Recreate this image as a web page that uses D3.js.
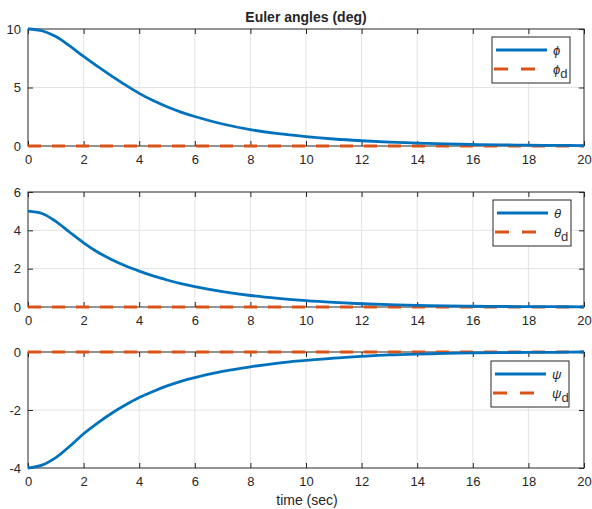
<!DOCTYPE html>
<html lang="en">
<head>
  <meta charset="UTF-8" />
  <title>Euler angles</title>
  <style>
  body { margin: 0; background: #fff; }
  text { font-family: "Liberation Sans", Arial, sans-serif; fill: #262626; }
  .grid line { stroke: #e3e3e3; stroke-width: 1; }
  .box { fill: none; stroke: #262626; stroke-width: 1; }
  </style>
</head>
<body>
  <script src="https://cdn.jsdelivr.net/npm/d3@7/dist/d3.min.js"></script>
  <script>
  // time samples (sec)
  var time = [0, 0.5, 1, 1.5, 2, 2.5, 3, 3.5, 4, 4.5, 5, 5.5, 6, 7, 8, 9, 10, 11, 12, 13, 14, 15, 16, 17, 18, 19, 20];
  var phi   = [10, 9.85, 9.35, 8.55, 7.65, 6.8, 6.0, 5.22, 4.5, 3.88, 3.35, 2.9, 2.52, 1.88, 1.4, 1.05, 0.8, 0.6, 0.45, 0.33, 0.25, 0.18, 0.13, 0.1, 0.07, 0.05, 0.04];
  var theta = [5.0, 4.88, 4.47, 3.9, 3.35, 2.87, 2.48, 2.15, 1.87, 1.62, 1.41, 1.22, 1.06, 0.8, 0.6, 0.45, 0.33, 0.24, 0.17, 0.12, 0.08, 0.06, 0.04, 0.03, 0.02, 0.015, 0.01];
  var psi   = [-4, -3.9, -3.64, -3.25, -2.82, -2.45, -2.12, -1.83, -1.57, -1.36, -1.17, -1.01, -0.88, -0.67, -0.51, -0.38, -0.29, -0.21, -0.15, -0.1, -0.07, -0.05, -0.03, -0.02, -0.015, -0.01, 0];
  var desired = [0, 0];
  var desiredTime = [0, 20];

  var xTicks = [0, 2, 4, 6, 8, 10, 12, 14, 16, 18, 20];
  var yTicks1 = [0, 5, 10];
  var yTicks2 = [0, 2, 4, 6];
  var yTicks3 = [-4, -2, 0];
  var symbols = ["\u03D5", "\u03B8", "\u03C8"];

  var blue = "#0072BD", orange = "#D95319";
  var W = 592, H = 509;
  var left = 28, right = 584;

  var svg = d3.select("body").append("svg")
      .attr("width", W)
      .attr("height", H);

  var panels = [
    {values: phi,   dom: [0, 10], ticks: yTicks1, top: 29,  bottom: 146, leg: {x: 492, y: 37}},
    {values: theta, dom: [0, 6],  ticks: yTicks2, top: 192, bottom: 307, leg: {x: 493, y: 200}},
    {values: psi,   dom: [-4, 0], ticks: yTicks3, top: 352, bottom: 468, leg: {x: 491, y: 361}}
  ];

  var x = d3.scaleLinear().domain([0, 20]).range([left, right]);
  var fmt = function(d) { return String(d); };  // plain hyphen minus like matlab

  panels.forEach(function(p, i) {
    var y = d3.scaleLinear().domain(p.dom).range([p.bottom, p.top]);
    var g = svg.append("g");

    // grid
    var grid = g.append("g").attr("class", "grid");
    grid.selectAll(".gx").data(xTicks.slice(1, -1)).enter().append("line")
      .attr("x1", d => x(d)).attr("x2", d => x(d))
      .attr("y1", p.top).attr("y2", p.bottom);
    grid.selectAll(".gy").data(p.ticks.slice(1, -1)).enter().append("line")
      .attr("y1", d => y(d)).attr("y2", d => y(d))
      .attr("x1", left).attr("x2", right);

    // axes (ticks inside, on all four sides)
    g.append("g").attr("transform", "translate(0," + p.bottom + ")")
      .call(d3.axisBottom(x).tickValues(xTicks).tickFormat(fmt).tickSizeInner(-5).tickSizeOuter(0).tickPadding(9));
    g.append("g").attr("transform", "translate(" + left + ",0)")
      .call(d3.axisLeft(y).tickValues(p.ticks).tickFormat(fmt).tickSizeInner(-5).tickSizeOuter(0).tickPadding(7));
    g.append("g").attr("transform", "translate(0," + p.top + ")")
      .call(d3.axisTop(x).tickValues(xTicks).tickSizeInner(-5).tickSizeOuter(0).tickFormat(""));
    g.append("g").attr("transform", "translate(" + right + ",0)")
      .call(d3.axisRight(y).tickValues(p.ticks).tickSizeInner(-5).tickSizeOuter(0).tickFormat(""));
    g.selectAll(".domain").remove();
    g.selectAll(".tick line").attr("stroke", "#262626");
    g.selectAll(".tick text").attr("font-size", 13).attr("fill", "#333")
      .attr("font-family", "Liberation Sans, Arial, sans-serif");

    g.append("rect").attr("class", "box")
      .attr("x", left).attr("y", p.top)
      .attr("width", right - left).attr("height", p.bottom - p.top);

    // desired (dashed) and actual
    var line = d3.line().x(d => x(d[0])).y(d => y(d[1]));
    g.append("path")
      .attr("d", line(d3.zip(desiredTime, desired)))
      .attr("fill", "none").attr("stroke", orange).attr("stroke-width", 3)
      .attr("stroke-dasharray", "13,11");
    g.append("path")
      .attr("d", line.curve(d3.curveCatmullRom)(d3.zip(time, p.values)))
      .attr("fill", "none").attr("stroke", blue).attr("stroke-width", 2.8);

    // legend
    var lg = g.append("g").attr("transform", "translate(" + p.leg.x + "," + p.leg.y + ")");
    lg.append("rect").attr("width", 78).attr("height", 46)
      .attr("fill", "#fff").attr("stroke", "#262626").attr("stroke-width", 1);
    lg.append("line").attr("x1", 4).attr("x2", 55).attr("y1", 13).attr("y2", 13)
      .attr("stroke", blue).attr("stroke-width", 2.8);
    lg.append("line").attr("x1", 2).attr("x2", 56).attr("y1", 32).attr("y2", 32)
      .attr("stroke", orange).attr("stroke-width", 3).attr("stroke-dasharray", "14,13");
    lg.append("text").attr("x", 61).attr("y", 18)
      .attr("font-size", 13).attr("font-style", "italic").attr("fill", "#555")
      .attr("font-family", "DejaVu Serif, serif")
      .text(symbols[i]);
    var t2 = lg.append("text").attr("x", 61).attr("y", 37)
      .attr("font-size", 13).attr("font-style", "italic").attr("fill", "#555")
      .attr("font-family", "DejaVu Serif, serif");
    t2.append("tspan").text(symbols[i]);
    t2.append("tspan").attr("dy", 4).attr("font-style", "normal")
      .attr("font-family", "Liberation Sans, Arial, sans-serif").attr("fill", "#333")
      .attr("font-size", 13).text("d");
  });

  svg.append("text").attr("x", 306).attr("y", 22)
    .attr("text-anchor", "middle").attr("font-size", 14).attr("font-weight", "bold")
    .attr("fill", "#000")
    .text("Euler angles (deg)");

  svg.append("text").attr("x", 307).attr("y", 505)
    .attr("text-anchor", "middle").attr("font-size", 14)
    .text("time (sec)");
  </script>
</body>
</html>
